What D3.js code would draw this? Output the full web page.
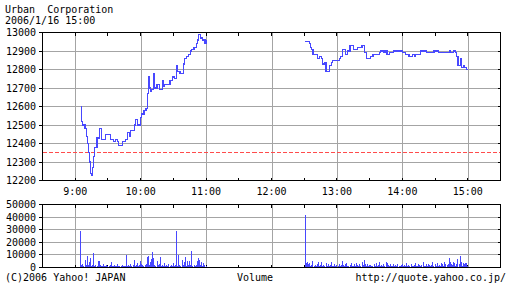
<!DOCTYPE html>
<html><head><meta charset="utf-8">
<script src="https://cdn.jsdelivr.net/npm/d3@7"></script>
<style>
body{margin:0;background:#fff}
svg{display:block}
text{font-family:"DejaVu Sans Mono",monospace;font-size:10px;fill:#000}
</style>
</head><body>
<svg id="c" width="512" height="288"></svg>
<script>
const title = "Urban  Corporation";
const stamp = "2006/1/16 15:00";
const priceTicks = [12200,12300,12400,12500,12600,12700,12800,12900,13000];
const volTicks = [0,10000,20000,30000,40000,50000];
const hourLabels = ["9:00","10:00","11:00","12:00","13:00","14:00","15:00"];
const prevClose = 12350;

const amTimes = ["09:05","09:06","09:07","09:09","09:10","09:11","09:12","09:13","09:14","09:15",
"09:16","09:17","09:18","09:20","09:22","09:24","09:28","09:32","09:35","09:37",
"09:39","09:40","09:43","09:46","09:48","09:50","09:51","09:54","09:55","09:57",
"10:00","10:01","10:03","10:05","10:06","10:07","10:08","10:09","10:10","10:12",
"10:13","10:15","10:17","10:20","10:21","10:22","10:27","10:29","10:31","10:33",
"10:34","10:36","10:39","10:40","10:42","10:44","10:46","10:47","10:49","10:51",
"10:52","10:53","10:55","10:57","10:59","11:00"];
const amPrices = [12600,12520,12500,12480,12440,12400,12350,12300,12240,12230,
12270,12330,12380,12430,12480,12420,12450,12420,12410,12420,
12410,12390,12410,12420,12460,12440,12470,12500,12530,12500,
12540,12560,12580,12590,12670,12760,12700,12680,12690,12780,
12700,12720,12690,12740,12710,12720,12740,12760,12750,12820,
12790,12780,12830,12860,12870,12880,12900,12910,12920,12940,
12960,12990,12970,12960,12940,12960];

const pmTimes = ["12:31","12:35","12:36","12:37","12:38","12:42","12:44","12:46","12:47","12:49",
"12:50","12:53","12:55","12:56","13:02","13:03","13:05","13:08","13:10","13:12",
"13:15","13:19","13:23","13:25","13:27","13:31","13:33","13:39","13:40","13:43",
"13:44","13:46","13:48","13:52","14:00","14:03","14:06","14:09","14:11","14:12",
"14:17","14:22","14:29","14:33","14:43","14:44","14:47","14:49","14:50","14:51",
"14:53","14:54","14:56","14:57","14:59","15:00"];
const pmPrices = [12950,12940,12920,12910,12880,12860,12870,12860,12830,12840,
12790,12820,12840,12850,12860,12870,12910,12880,12900,12930,
12910,12920,12930,12890,12860,12870,12880,12890,12900,12890,
12900,12880,12890,12900,12890,12880,12870,12880,12870,12880,
12900,12890,12900,12890,12900,12890,12900,12890,12870,12820,
12860,12810,12820,12810,12800,12800];

const amVolStart = "09:05";
const amVolumes = [29000,1600,2900,1500,5800,1800,9500,2200,4200,7400,
1500,2000,11700,1500,2200,1200,4800,4800,2000,1500,
1200,2500,1500,1000,2200,1500,1200,2000,4200,1500,
1000,1800,1200,1500,3000,1200,1500,1000,1800,1200,
1500,1000,10300,1500,2000,1200,2500,1500,2000,6300,
1500,2000,3500,1500,1800,5500,3000,2000,1500,1800,
2500,8700,9500,2000,4500,6900,12100,7900,2000,1500,
5000,1800,2500,8000,1500,2000,1200,3500,1500,2000,
1200,2500,1500,1800,1200,3500,1500,2000,28800,1500,
10300,2000,1500,6300,2000,4600,8700,1500,5000,1800,
5000,2000,12700,1500,2000,1200,1800,5500,7600,6300,
2000,4200,1500,3300,2100,1200];

const pmVolStart = "12:31";
const pmVolumes = [42000,3500,4000,2500,3500,1500,2000,5500,1500,2000,
1200,2500,4700,1500,1800,4200,1500,2000,1200,3500,
1500,3000,1200,2000,4200,1500,1000,2500,1500,1800,
1200,3000,1500,2000,5500,1800,1200,2500,3200,1500,
1000,2000,3500,1500,1200,2800,1500,3800,2000,1200,
2500,1500,4000,1800,6300,2500,1500,3000,1200,1800,
2000,1500,1000,2500,1500,3200,1200,1800,4000,1500,
2000,1200,2800,1500,4200,3500,1800,1200,2500,1500,
1000,3000,1500,2000,1200,2500,1500,1000,1800,3000,
1500,2000,1200,3500,1500,2000,1200,2800,1500,1000,
2000,3500,1500,1200,2500,1800,1500,2000,4000,1500,
1200,2500,1500,3000,1800,1500,2000,4700,1200,2500,
1500,3800,1500,2000,1200,3200,2500,1500,4200,3000,
1800,2500,7400,4500,3000,2000,4000,3500,1500,3000,
6900,2500,9500,4000,1500,3500,2500,3800,3500,1200];

const parseT = s => { const [h,m] = s.split(":").map(Number); return new Date(2006,0,16,h,m); };
const addMin = (s,i) => { const d = parseT(s); return new Date(d.getTime()+i*60000); };

const svg = d3.select("#c");
const blue = "#4848ff", grid = "#a4a4a4";

const x = d3.scaleTime().domain([parseT("08:30"), parseT("15:30")]).range([42.5, 500.5]);
const yP = d3.scaleLinear().domain([12200, 13000]).range([180.5, 32.5]);
const yV = d3.scaleLinear().domain([0, 50000]).range([267.5, 204.5]);

const hours = hourLabels.map(s => parseT(s.padStart(5,"0")));
const halfHours = d3.timeMinute.every(30).range(parseT("08:30"), parseT("15:31"));

function panel(y, ticks, gridTicks, top, bottom, fmt) {
  const g = svg.append("g").attr("shape-rendering","crispEdges");
  g.selectAll(null).data(hours).enter().append("line")
    .attr("x1", d=>Math.round(x(d))+0.5).attr("x2", d=>Math.round(x(d))+0.5)
    .attr("y1", top).attr("y2", bottom).attr("stroke", grid);
  g.selectAll(null).data(gridTicks).enter().append("line")
    .attr("x1", 42.5).attr("x2", 500.5)
    .attr("y1", d=>Math.round(y(d)-0.5)+0.5).attr("y2", d=>Math.round(y(d)-0.5)+0.5).attr("stroke", grid);
  halfHours.forEach(d => {
    const xx = Math.round(x(d)-0.5)+0.5;
    g.append("line").attr("x1",xx).attr("x2",xx).attr("y1",top).attr("y2",top+3).attr("stroke","#000");
    g.append("line").attr("x1",xx).attr("x2",xx).attr("y1",bottom).attr("y2",bottom-3).attr("stroke","#000");
  });
  ticks.forEach(d => {
    const yy = Math.round(y(d)-0.5)+0.5;
    g.append("line").attr("x1",39).attr("x2",42.5).attr("y1",yy).attr("y2",yy).attr("stroke","#000");
    g.append("line").attr("x1",497.5).attr("x2",500.5).attr("y1",yy).attr("y2",yy).attr("stroke","#000");
    svg.append("text").attr("x",36).attr("y",yy+3.5).attr("text-anchor","end").text(fmt(d));
  });
  return g;
}

// price panel
const gp = panel(yP, priceTicks, priceTicks.slice(1,-1), 32.5, 180.5, d=>d);
gp.append("line").attr("x1",42.5).attr("x2",500.5)
  .attr("y1",Math.round(yP(prevClose)-0.5)+0.5).attr("y2",Math.round(yP(prevClose)-0.5)+0.5)
  .attr("stroke","#ff4c4c").attr("stroke-dasharray","4,2");
const line = d3.line().x(d=>x(d[0])).y(d=>yP(d[1])).curve(d3.curveStepAfter);
[[amTimes,amPrices],[pmTimes,pmPrices]].forEach(([t,p]) => {
  gp.append("path").datum(t.map((s,i)=>[parseT(s),p[i]]))
    .attr("d", line).attr("fill","none").attr("stroke",blue).attr("stroke-width",1.2);
});
gp.append("rect").attr("x",42.5).attr("y",32.5).attr("width",458).attr("height",148)
  .attr("fill","none").attr("stroke","#000");

// volume panel
const gv = panel(yV, volTicks, volTicks.slice(1,-1), 204.5, 267.5, d=>d);
const vols = amVolumes.map((v,i)=>[addMin(amVolStart,i),v])
  .concat(pmVolumes.map((v,i)=>[addMin(pmVolStart,i),v]));
gv.selectAll(null).data(vols).enter().append("rect")
  .attr("x", d=>Math.round(x(d[0])-0.5)).attr("width",1)
  .attr("y", d=>Math.round(yV(d[1]))).attr("height", d=>267-Math.round(yV(d[1])))
  .attr("fill", blue);
gv.append("rect").attr("x",42.5).attr("y",204.5).attr("width",458).attr("height",63)
  .attr("fill","none").attr("stroke","#000");

hourLabels.forEach((s,i) => {
  svg.append("text").attr("x", x(hours[i])).attr("y",195).attr("text-anchor","middle").text(s);
});

svg.append("text").attr("x",5).attr("y",13).attr("xml:space","preserve").style("white-space","pre").text(title);
svg.append("text").attr("x",5).attr("y",23.5).text(stamp);
svg.append("text").attr("x",5).attr("y",281).text("(C)2006 Yahoo! JAPAN");
svg.append("text").attr("x",255).attr("y",281).attr("text-anchor","middle").text("Volume");
svg.append("text").attr("x",506).attr("y",281).attr("text-anchor","end").text("http://quote.yahoo.co.jp/");
</script>
</body></html>
